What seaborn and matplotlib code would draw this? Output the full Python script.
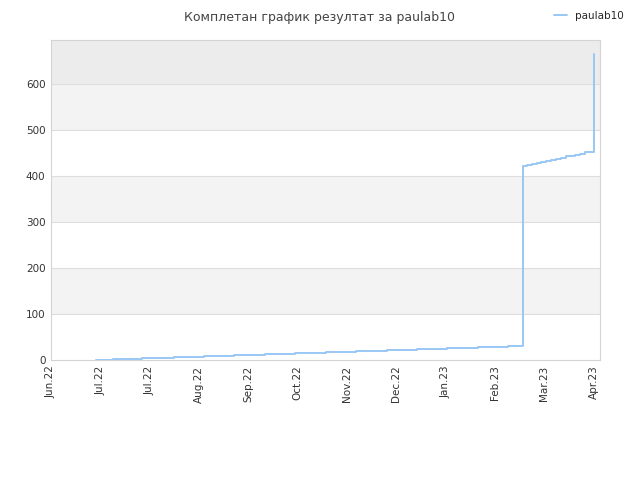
import numpy as np
import pandas as pd
import seaborn as sb
import matplotlib
matplotlib.use("Agg")
import matplotlib.pyplot as plt

# days since the first tick (Jun.22) at which each level starts, and the level
step_days = [27.5, 37.6, 55.6, 74.8, 92.8, 111.3, 130, 148.6, 167, 185.6, 204.3, 222.7,
             241, 259.5, 278,
             287, 289.5, 292.5, 295.5, 298, 301, 304, 307, 310, 313, 316, 318.5,
             321.5, 324.5, 330]
step_vals = [1, 3, 5, 7, 9, 11, 13, 15, 17, 19, 21, 24, 26, 28, 31,
             422, 424, 426, 428, 430, 433, 435, 437, 439, 442, 444, 446,
             448, 451, 665]

tick_days = [0, 30, 60, 90, 120, 150, 180, 210, 240, 270, 300, 330]
tick_labels = ["Jun.22", "Jul.22", "Jul.22", "Aug.22", "Sep.22", "Oct.22",
               "Nov.22", "Dec.22", "Jan.23", "Feb.23", "Mar.23", "Apr.23"]
y_ticks = [0, 100, 200, 300, 400, 500, 600]

df = pd.DataFrame({"day": step_days, "score": step_vals})

sb.set_style("white")
plt.rcParams['font.family'] = ['DejaVu Sans']

fig = plt.figure(figsize=(6.4, 4.8), dpi=100)
ax = fig.add_axes([0.0797, 0.25, 0.858, 0.6667])

# alternating background bands
for lo, hi, c in [(100, 200, "#f3f3f3"), (300, 400, "#f3f3f3"),
                  (500, 600, "#f3f3f3"), (600, 700, "#ececec")]:
    ax.axhspan(lo, hi, color=c, zorder=0, lw=0)
for y in y_ticks[1:]:
    ax.axhline(y, color="#dedede", lw=0.8, zorder=1)

sb.lineplot(data=df, x="day", y="score", ax=ax, drawstyle="steps-post",
            color="#99c7f4", lw=1.4, label="paulab10", zorder=3)

ax.set_xlim(0, 334)
ax.set_ylim(0, 695)
ax.set_xticks(tick_days)
ax.set_xticklabels(tick_labels, rotation=90, fontsize=7.5, color="#333333")
ax.set_yticks(y_ticks)
ax.set_yticklabels([str(v) for v in y_ticks], fontsize=7.5, color="#333333")
ax.tick_params(axis="both", length=0, pad=4)
ax.set_xlabel("")
ax.set_ylabel("")
for s in ax.spines.values():
    s.set_color("#d4d4d4")
    s.set_linewidth(0.8)

fig.text(0.5, 0.978, "Комплетан график резултат за paulab10", ha="center", va="top",
         fontsize=9, color="#444444")
ax.legend(loc="upper right", bbox_to_anchor=(1.06, 1.12), frameon=False,
          fontsize=7.5, handlelength=1.2)

plt.savefig("out.png", dpi=100)
